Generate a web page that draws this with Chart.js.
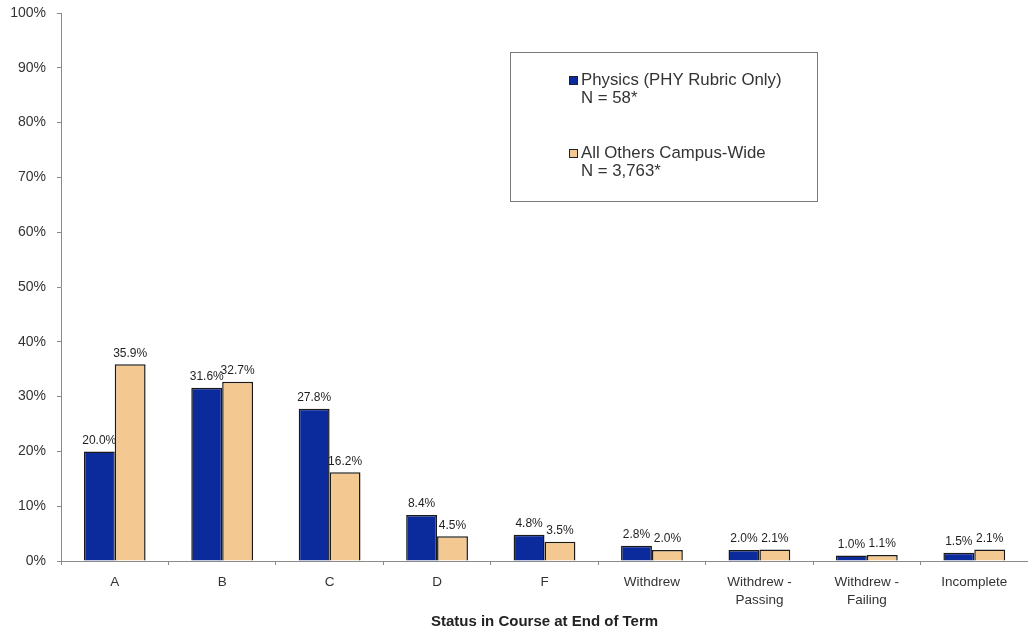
<!DOCTYPE html>
<html>
<head>
<meta charset="utf-8">
<script src="https://cdn.jsdelivr.net/npm/chart.js@4/dist/chart.umd.min.js"></script>
<style>
  html, body { margin: 0; padding: 0; background: #ffffff; }
  #wrap { width: 1028px; height: 635px; position: relative; }
</style>
</head>
<body>
<div id="wrap"><canvas id="c" width="1028" height="635"></canvas></div>
<script>
// Course status categories (multi-line labels as arrays)
const categories = [
  'A', 'B', 'C', 'D', 'F', 'Withdrew',
  ['Withdrew -', 'Passing'], ['Withdrew -', 'Failing'], 'Incomplete'
];
// Percent of students in each status
const physicsValues = [20.0, 31.6, 27.8, 8.4, 4.8, 2.8, 2.0, 1.0, 1.5];
const campusValues  = [35.9, 32.7, 16.2, 4.5, 3.5, 2.0, 2.1, 1.1, 2.1];
// Series names, each with a second line for the sample size
const physicsLabel = ['Physics (PHY Rubric Only)', 'N = 58*'];
const campusLabel  = ['All Others Campus-Wide', 'N = 3,763*'];
const yTicks = [0, 10, 20, 30, 40, 50, 60, 70, 80, 90, 100];
const xTitle = 'Status in Course at End of Term';

const BLUE = '#0b2a9c';
const TAN = '#f4c991';
const FONT = 'Arial, "Liberation Sans", sans-serif';

// Value labels above each bar
const valueLabels = {
  id: 'valueLabels',
  afterDatasetsDraw(chart) {
    const ctx = chart.ctx;
    ctx.save();
    ctx.font = '12px ' + FONT;
    ctx.fillStyle = '#1e1e1e';
    ctx.textAlign = 'center';
    ctx.textBaseline = 'bottom';
    chart.data.datasets.forEach((ds, i) => {
      chart.getDatasetMeta(i).data.forEach((bar, j) => {
        ctx.fillText(ds.data[j].toFixed(1) + '%', bar.x, bar.y - 5);
      });
    });
    ctx.restore();
  }
};

// Boxed legend inside the plot area
const boxLegend = {
  id: 'boxLegend',
  afterDraw(chart) {
    const ctx = chart.ctx;
    const bx = 510, by = 52, bw = 307, bh = 149;
    ctx.save();
    ctx.strokeStyle = '#7a7a7a';
    ctx.lineWidth = 1;
    ctx.strokeRect(bx + 0.5, by + 0.5, bw, bh);
    ctx.font = '16.8px ' + FONT;
    ctx.textBaseline = 'middle';
    ctx.textAlign = 'left';
    const rows = [80, 153];
    chart.data.datasets.forEach((ds, i) => {
      const y = rows[i];
      ctx.fillStyle = ds.backgroundColor;
      ctx.fillRect(569, y - 4, 9, 9);
      ctx.strokeStyle = '#222';
      ctx.strokeRect(569.5, y - 3.5, 8, 8);
      ctx.fillStyle = '#333';
      ds.label.forEach((line, k) => {
        ctx.fillText(line, 581, y + k * 18.5);
      });
    });
    ctx.restore();
  }
};

new Chart(document.getElementById('c'), {
  type: 'bar',
  data: {
    labels: categories,
    datasets: [
      { label: physicsLabel, data: physicsValues, backgroundColor: BLUE,
        borderColor: '#1a1a1a', borderWidth: 1.5 },
      { label: campusLabel, data: campusValues, backgroundColor: TAN,
        borderColor: '#1a1a1a', borderWidth: 1.5 }
    ]
  },
  options: {
    responsive: false,
    animation: false,
    devicePixelRatio: 1,
    layout: { padding: { top: 13, right: 0, bottom: 0, left: 0 } },
    datasets: { bar: { categoryPercentage: 0.575, barPercentage: 1.0 } },
    plugins: {
      legend: { display: false },
      tooltip: { enabled: false }
    },
    scales: {
      x: {
        offset: true,
        grid: {
          offset: true, drawOnChartArea: false, drawTicks: true,
          tickLength: 4, color: '#8a8a8a'
        },
        border: { color: '#8a8a8a', width: 1 },
        ticks: {
          color: '#333', font: { size: 13.5, family: FONT, lineHeight: 1.35 },
          padding: 8, maxRotation: 0, autoSkip: false
        },
        title: {
          display: true, text: xTitle, color: '#222',
          font: { size: 15, weight: 'bold', family: FONT },
          padding: { top: 2, bottom: 4 }
        },
        afterFit(scale) { scale.height = 74; }
      },
      y: {
        min: 0, max: 100,
        afterBuildTicks(scale) { scale.ticks = yTicks.map(v => ({ value: v })); },
        grid: {
          drawOnChartArea: false, drawTicks: true, tickLength: 4, color: '#8a8a8a'
        },
        border: { color: '#8a8a8a', width: 1 },
        ticks: {
          color: '#333', font: { size: 14, family: FONT }, padding: 11,
          callback: v => v + '%'
        },
        afterFit(scale) {
          scale.width = 61;
          scale.paddingTop = 0;
          scale.paddingBottom = 0;
        }
      }
    }
  },
  plugins: [valueLabels, boxLegend]
});
</script>
</body>
</html>
